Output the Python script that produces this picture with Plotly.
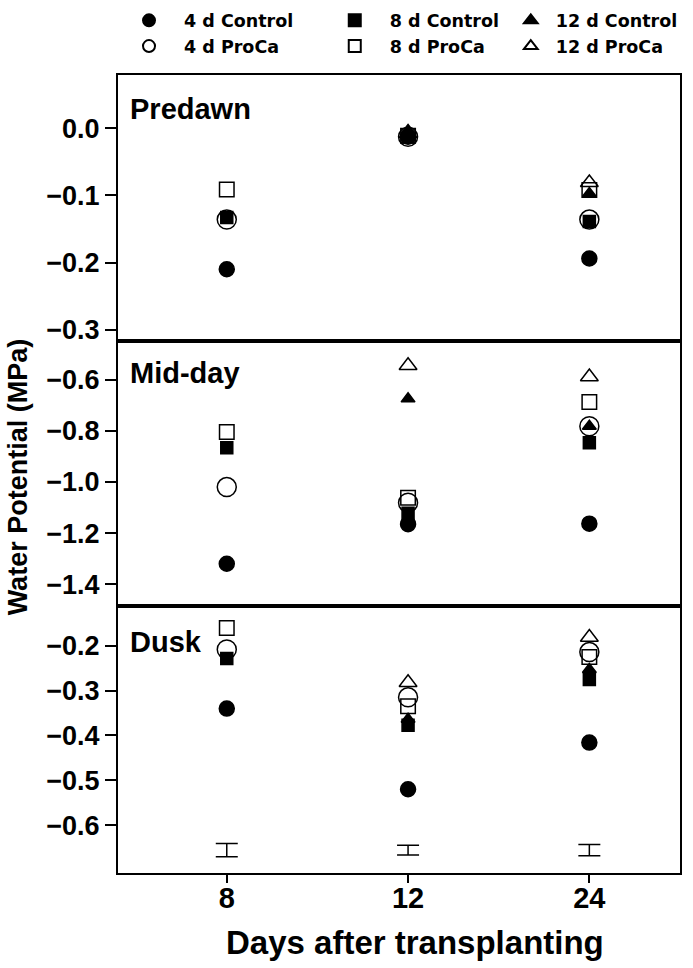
import plotly.graph_objects as go

# ---------------- data ----------------
days = ["8", "12", "24"]

predawn_4d_control = [-0.210, -0.0125, -0.194]
predawn_4d_proca = [-0.136, -0.0125, -0.136]
predawn_8d_control = [-0.133, -0.013, -0.139]
predawn_8d_proca = [-0.091, -0.011, -0.092]
predawn_12d_control = [None, -0.003, -0.097]
predawn_12d_proca = [None, -0.008, -0.081]

midday_4d_control = [-1.320, -1.165, -1.163]
midday_4d_proca = [-1.020, -1.081, -0.782]
midday_8d_control = [-0.866, -1.122, -0.847]
midday_8d_proca = [-0.805, -1.062, -0.687]
midday_12d_control = [None, -0.675, -0.782]
midday_12d_proca = [None, -0.545, -0.589]

dusk_4d_control = [-0.340, -0.520, -0.416]
dusk_4d_proca = [-0.208, -0.315, -0.214]
dusk_8d_control = [-0.228, -0.377, -0.275]
dusk_8d_proca = [-0.160, -0.335, -0.225]
dusk_12d_control = [None, -0.364, -0.253]
dusk_12d_proca = [None, -0.282, -0.181]

dusk_bar_center = [-0.656, -0.656, -0.656]
dusk_bar_half = [0.015, 0.011, 0.0127]

predawn_ticks = [0.0, -0.1, -0.2, -0.3]
predawn_ticktext = ["0.0", "\u22120.1", "\u22120.2", "\u22120.3"]
midday_ticks = [-0.6, -0.8, -1.0, -1.2, -1.4]
midday_ticktext = ["\u22120.6", "\u22120.8", "\u22121.0", "\u22121.2", "\u22121.4"]
dusk_ticks = [-0.2, -0.3, -0.4, -0.5, -0.6]
dusk_ticktext = ["\u22120.2", "\u22120.3", "\u22120.4", "\u22120.5", "\u22120.6"]

panel_names = ["Predawn", "Mid-day", "Dusk"]
series_names = ["12 d ProCa", "12 d Control", "8 d ProCa", "8 d Control", "4 d ProCa", "4 d Control"]
panel_data = [
    [predawn_12d_proca, predawn_12d_control, predawn_8d_proca, predawn_8d_control, predawn_4d_proca, predawn_4d_control],
    [midday_12d_proca, midday_12d_control, midday_8d_proca, midday_8d_control, midday_4d_proca, midday_4d_control],
    [dusk_12d_proca, dusk_12d_control, dusk_8d_proca, dusk_8d_control, dusk_4d_proca, dusk_4d_control],
]

# ---------------- styles ----------------
styles = {
    "4 d Control": dict(symbol="circle", size=15, legend="legend", rank=1),
    "4 d ProCa": dict(symbol="circle-open", size=19, legend="legend", rank=2),
    "8 d Control": dict(symbol="square", size=12, legend="legend2", rank=1),
    "8 d ProCa": dict(symbol="square-open", size=14.5, legend="legend2", rank=2),
    "12 d Control": dict(symbol="triangle-up", size=12, legend="legend3", rank=1),
    "12 d ProCa": dict(symbol="triangle-up-open", size=15.5, legend="legend3", rank=2),
}

fig = go.Figure()
axis_suffix = ["", "2", "3"]
for p, pdata in enumerate(panel_data):
    for name, vals in zip(series_names, pdata):
        st = styles[name]
        fig.add_trace(go.Scatter(
            x=days, y=vals, mode="markers", name=name,
            xaxis="x" + axis_suffix[p], yaxis="y" + axis_suffix[p],
            marker=dict(symbol=st["symbol"], size=st["size"], color="black",
                        line=dict(width=1.5, color="black")),
            legend=st["legend"], legendrank=st["rank"],
            showlegend=(p == 0), legendgroup=name, cliponaxis=False,
        ))

fig.add_trace(go.Scatter(
    x=days, y=dusk_bar_center, mode="markers", showlegend=False,
    xaxis="x3", yaxis="y3",
    marker=dict(size=1, color="rgba(0,0,0,0)"),
    error_y=dict(type="data", array=dusk_bar_half, visible=True,
                 color="black", thickness=1.5, width=11),
))

FONT = "Liberation Sans"
tick_font = dict(family=FONT, size=27, color="black", weight="bold")
line_kw = dict(showline=True, linecolor="black", linewidth=2, mirror=True,
               showgrid=False, zeroline=False)

domains = [[0.6666, 1.0], [0.3343, 0.6666], [0.0, 0.3343]]
yranges = [[-0.317, 0.0795], [-1.486, -0.449], [-0.707, -0.1116]]
yticks = [(predawn_ticks, predawn_ticktext), (midday_ticks, midday_ticktext), (dusk_ticks, dusk_ticktext)]

layout = dict(
    width=693, height=968,
    margin=dict(l=118, r=13, t=75, b=95, autoexpand=False),
    paper_bgcolor="white", plot_bgcolor="white",
    showlegend=True,
)
for i in range(3):
    s = axis_suffix[i]
    layout["xaxis" + s] = dict(
        domain=[0, 1], anchor="y" + s, type="category", range=[-0.6, 2.5],
        showticklabels=(i == 2), ticks="outside" if i == 2 else "",
        ticklen=8, tickwidth=1.5, tickcolor="black", ticklabelstandoff=-10,
        tickfont=dict(family=FONT, size=29, color="black", weight="bold"),
        automargin=False, **line_kw)
    layout["yaxis" + s] = dict(
        domain=domains[i], anchor="x" + s, range=yranges[i],
        tickvals=yticks[i][0], ticktext=yticks[i][1],
        ticks="outside", ticklen=11, tickwidth=1.5, tickcolor="black",
        tickfont=tick_font, automargin=False, **line_kw)

legend_common = dict(
    orientation="v", yanchor="top", xanchor="left", y=1.0909,
    font=dict(family="DejaVu Sans", size=17.5, color="black", weight="bold"),
    itemsizing="constant", bgcolor="rgba(0,0,0,0)",
    traceorder="normal", tracegroupgap=0, itemclick=False,
)
layout["legend"] = dict(x=-0.0071, itemwidth=60, **legend_common)
layout["legend2"] = dict(x=0.359, itemwidth=60, **legend_common)
layout["legend3"] = dict(x=0.690, itemwidth=40, **legend_common)

fig.update_layout(**layout)

label_y = [0.957, 0.6264, 0.2892]
for name, yy in zip(panel_names, label_y):
    fig.add_annotation(text=name, xref="paper", yref="paper", x=0.0178, y=yy,
                       xanchor="left", yanchor="middle", showarrow=False,
                       font=dict(family=FONT, size=29, color="black", weight="bold"))

fig.add_annotation(text="Days after transplanting", xref="paper", yref="paper",
                   x=0.528, y=-0.0869, xanchor="center", yanchor="middle", showarrow=False,
                   font=dict(family=FONT, size=33, color="black", weight="bold"))
fig.add_annotation(text="Water Potential (MPa)", xref="paper", yref="paper",
                   x=-0.178, y=0.497, xanchor="center", yanchor="middle", showarrow=False,
                   textangle=-90,
                   font=dict(family=FONT, size=27, color="black", weight="bold"))

fig.write_html("out.html", config={"displayModeBar": False},
               post_script="document.body.style.margin='0px';document.body.style.padding='0px';")
